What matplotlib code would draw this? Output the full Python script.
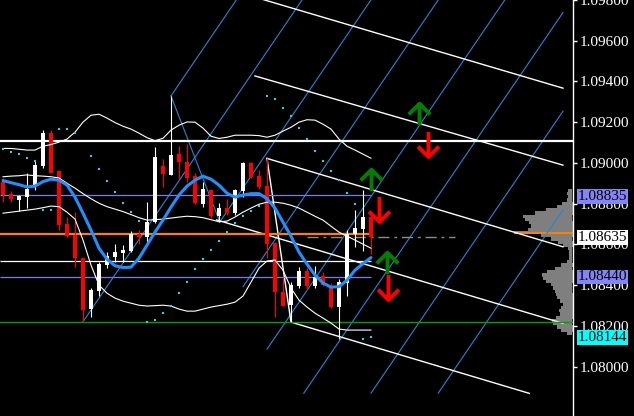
import numpy as np
import matplotlib
matplotlib.use("Agg")
import matplotlib.pyplot as plt
import matplotlib.transforms as mtransforms
from matplotlib.path import Path

# -----------------------------
# 1. Price data (one candle per bar, oldest first)
# -----------------------------
opens = [1.08907, 1.08847, 1.08820, 1.08833, 1.08891, 1.08985, 1.09145, 1.08959, 1.08699, 1.08645,
         1.08534, 1.08282, 1.08372, 1.08498, 1.08539, 1.08558, 1.08568, 1.08650, 1.08637, 1.08708,
         1.08984, 1.08943, 1.09043, 1.09002, 1.08935, 1.08796, 1.08866, 1.08740, 1.08779, 1.08755,
         1.08861, 1.09000, 1.08937, 1.08886, 1.08607, 1.08367, 1.08301, 1.08395, 1.08470, 1.08395,
         1.08444, 1.08395, 1.08290, 1.08408, 1.08650, 1.08673, 1.08735]
highs = [1.08926, 1.08863, 1.08842, 1.08950, 1.09013, 1.09161, 1.09164, 1.08964, 1.08735, 1.08760,
         1.08537, 1.08385, 1.08513, 1.08563, 1.08601, 1.08596, 1.08665, 1.08670, 1.08809, 1.09079,
         1.09018, 1.09329, 1.09082, 1.09091, 1.08948, 1.08907, 1.08874, 1.08801, 1.08822, 1.08874,
         1.09005, 1.09005, 1.08964, 1.09022, 1.08612, 1.08434, 1.08416, 1.08487, 1.08482, 1.08493,
         1.08465, 1.08411, 1.08429, 1.08670, 1.08771, 1.08866, 1.08736]
lows = [1.08807, 1.08809, 1.08764, 1.08778, 1.08866, 1.08976, 1.08950, 1.08670, 1.08635, 1.08490,
        1.08220, 1.08244, 1.08346, 1.08482, 1.08514, 1.08514, 1.08563, 1.08601, 1.08612, 1.08703,
        1.08882, 1.08941, 1.08915, 1.08907, 1.08797, 1.08784, 1.08727, 1.08710, 1.08743, 1.08743,
        1.08833, 1.08926, 1.08874, 1.08531, 1.08244, 1.08297, 1.08218, 1.08385, 1.08375, 1.08385,
        1.08395, 1.08288, 1.08135, 1.08346, 1.08588, 1.08568, 1.08555]
closes = [1.08842, 1.08822, 1.08837, 1.08871, 1.08989, 1.09145, 1.08951, 1.08694, 1.08642, 1.08531,
          1.08277, 1.08375, 1.08503, 1.08542, 1.08563, 1.08572, 1.08650, 1.08634, 1.08710, 1.09030,
          1.08945, 1.09038, 1.09005, 1.08927, 1.08801, 1.08870, 1.08740, 1.08779, 1.08752, 1.08866,
          1.09000, 1.08932, 1.08882, 1.08604, 1.08364, 1.08298, 1.08400, 1.08470, 1.08395, 1.08442,
          1.08402, 1.08290, 1.08414, 1.08653, 1.08681, 1.08735, 1.08637]

# -----------------------------
# 2. Indicators
# -----------------------------
ma_fast = [1.08913, 1.08903, 1.08893, 1.08882, 1.08886, 1.08908, 1.08920, 1.08915, 1.08891, 1.08832,
           1.08753, 1.08670, 1.08581, 1.08527, 1.08495, 1.08486, 1.08488, 1.08532, 1.08596, 1.08660,
           1.08719, 1.08783, 1.08842, 1.08886, 1.08915, 1.08935, 1.08920, 1.08891, 1.08851, 1.08832,
           1.08842, 1.08849, 1.08849, 1.08824, 1.08778, 1.08709, 1.08640, 1.08562, 1.08503, 1.08449,
           1.08410, 1.08390, 1.08392, 1.08424, 1.08473, 1.08505, 1.08535]
bb_mid = [1.08932, 1.08935, 1.08937, 1.08941, 1.08937, 1.08935, 1.08932, 1.08926, 1.08900, 1.08876,
          1.08849, 1.08824, 1.08802, 1.08785, 1.08773, 1.08761, 1.08746, 1.08731, 1.08719, 1.08721,
          1.08724, 1.08729, 1.08734, 1.08738, 1.08736, 1.08731, 1.08721, 1.08711, 1.08714, 1.08734,
          1.08758, 1.08778, 1.08797, 1.08807, 1.08807, 1.08802, 1.08792, 1.08778, 1.08758, 1.08738,
          1.08719, 1.08689, 1.08660, 1.08640, 1.08621, 1.08601, 1.08581]
bb_up = [1.09071, 1.09071, 1.09067, 1.09063, 1.09063, 1.09082, 1.09090, 1.09102, 1.09117, 1.09151,
         1.09200, 1.09234, 1.09239, 1.09220, 1.09198, 1.09180, 1.09166, 1.09146, 1.09124, 1.09109,
         1.09121, 1.09161, 1.09185, 1.09201, 1.09200, 1.09171, 1.09131, 1.09120, 1.09126, 1.09136,
         1.09136, 1.09136, 1.09134, 1.09126, 1.09136, 1.09156, 1.09175, 1.09200, 1.09212, 1.09210,
         1.09190, 1.09166, 1.09117, 1.09082, 1.09063, 1.09043, 1.09023]
bb_low = [1.08753, 1.08758, 1.08763, 1.08768, 1.08773, 1.08780, 1.08788, 1.08785, 1.08758, 1.08724,
          1.08621, 1.08498, 1.08400, 1.08360, 1.08336, 1.08321, 1.08311, 1.08301, 1.08297, 1.08299,
          1.08301, 1.08297, 1.08282, 1.08272, 1.08272, 1.08282, 1.08292, 1.08299, 1.08306, 1.08316,
          1.08346, 1.08414, 1.08483, 1.08518, 1.08523, 1.08473, 1.08385, 1.08326, 1.08292, 1.08262,
          1.08238, 1.08213, 1.08184, 1.08179, 1.08179, 1.08179, 1.08179]
sar = [1.09066, 1.09054, 1.09043, 1.09025, 1.09009, 1.08768, 1.08771, 1.09168, 1.09168, 1.09147,
       np.nan, 1.09035, 1.08969, 1.08910, 1.08858, 1.08804, 1.08760, 1.08715, 1.08220, 1.08228,
       1.08261, 1.08297, 1.08362, 1.08416, 1.08477, 1.08526, 1.08573, 1.08617, 1.08661, 1.08703,
       1.08740, 1.08765, 1.08789, 1.09329, 1.09313, 1.09270, 1.09231, 1.09173, 1.09115, 1.09058,
       1.09009, 1.08961, 1.08915, 1.08854, 1.08797, 1.08135, 1.08146]

# -----------------------------
# 3. Drawn objects
# -----------------------------
# horizontal levels
full_levels = [1.09107, 1.08219]
full_colors = ['white', '#00A000']
full_widths = [1.6, 1.0]
short_levels = [1.08840, 1.08650, 1.08516, 1.08440]
short_colors = ['#7B7BEE', '#FF8000', 'white', '#7B7BEE']
short_widths = [0.9, 1.6, 0.9, 0.9]
bid_price = 1.08637

# sloped channel lines: (start bar, start price, end bar, end price)
channel_lines = [
    (30.9, 1.09821, 70.0, 1.09367),
    (31.5, 1.09427, 70.0, 1.08989),
    (33.0, 1.09022, 70.0, 1.08588),
    (26.7, 1.08720, 70.0, 1.08212),
    (36.0, 1.08218, 65.8, 1.07868),
    (33.0, 1.09022, 36.0, 1.08218),
]

# grid rays: lower start point of each parallel line, rising to the right
grid_bars = [21.0, 10.0, 27.1, 30.0, 33.0, 37.6, 46.0, 54.4]
grid_prices = [1.09329, 1.08220, 1.08710, 1.08392, 1.08085, 1.07869, 1.07869, 1.07869]
grid_slope = 0.000577   # price per bar
grid_cross = (21.0, 1.09329, 27.1, 1.08710)

# signal arrows
arrow_bars = [52.0, 46.0, 48.0, 53.1, 47.0, 48.1]
arrow_prices = [1.09241, 1.08918, 1.08510, 1.09092, 1.08775, 1.08390]
arrow_dirs = ['up', 'up', 'up', 'down', 'down', 'down']

# volume profile at right edge
vp_prices = [1.08866, 1.08850, 1.08834, 1.08818, 1.08802, 1.08786, 1.08770, 1.08754, 1.08738, 1.08722,
             1.08706, 1.08690, 1.08674, 1.08658, 1.08642, 1.08626, 1.08610, 1.08594, 1.08578, 1.08562,
             1.08546, 1.08530, 1.08514, 1.08498, 1.08482, 1.08466, 1.08450, 1.08434, 1.08418, 1.08402,
             1.08386, 1.08370, 1.08354, 1.08338, 1.08322, 1.08306, 1.08290, 1.08274, 1.08258, 1.08242,
             1.08226, 1.08210, 1.08194, 1.08178, 1.08162]
vp_volume = [5, 6, 5, 6, 11, 16, 27, 38, 50, 48, 44, 42, 45, 59, 32, 22, 15, 10, 5, 4,
             4, 4, 6, 12, 18, 26, 31, 30, 27, 22, 20, 18, 17, 16, 13, 10, 12, 14, 13, 17,
             21, 20, 16, 12, 6]

# axis
price_ticks = [1.080, 1.082, 1.084, 1.086, 1.088, 1.090, 1.092, 1.094, 1.096, 1.098]
box_labels = ['1.08835', '1.08635', '1.08440', '1.08144']
box_prices = [1.08835, 1.08635, 1.08440, 1.08144]
box_colors = ['#8484F6', '#FFFFFF', '#8484F6', '#00FFFF']

# -----------------------------
# 4. Figure
# -----------------------------
plt.rcParams['font.family'] = ['Liberation Serif', 'DejaVu Serif']

fig = plt.figure(figsize=(6.34, 4.16), dpi=100, facecolor='black')
ax = fig.add_axes([0, 0, 572.5 / 634, 1])
ax.set_facecolor('black')
x_left, x_right = -0.375, 71.19
ax.set_xlim(x_left, x_right)
ax.set_ylim(1.07757, 1.09800)

# volume profile (bars grow leftwards from the price scale)
w = np.array(vp_volume) / 8.0
ax.barh(vp_prices, w, left=x_right - w, height=0.00016, color='#7F7F7F', linewidth=0, zorder=1)
poc = int(np.argmax(vp_volume))
ax.barh(vp_prices[poc], w[poc], left=x_right - w[poc], height=0.0001, color='#FF8000', linewidth=0, zorder=1.1)

# grid rays
for b, p in zip(grid_bars, grid_prices):
    b_end = min(70.0, b + (1.0990 - p) / grid_slope)
    ax.plot([b, b_end], [p, p + grid_slope * (b_end - b)], color='#1E88D8', lw=0.8, zorder=1.5)
ax.plot(grid_cross[0::2], grid_cross[1::2], color='#1E88D8', lw=0.8, zorder=1.5)

# channel lines
for b0, p0, b1, p1 in channel_lines:
    ax.plot([b0, b1], [p0, p1], color='white', lw=1.0, zorder=2)

# horizontal levels
for lvl, col, lw in zip(full_levels, full_colors, full_widths):
    ax.axhline(lvl, color=col, lw=lw, zorder=2)
n = len(opens)
for lvl, col, lw in zip(short_levels, short_colors, short_widths):
    ax.hlines(lvl, x_left, n - 1, colors=col, lw=lw, zorder=2)
ax.hlines(bid_price, 38, 56.5, colors='#8C8C8C', lw=1.0, linestyles=(0, (8, 3.5, 2, 3.5)), zorder=2)

# candles
xs = np.arange(n)
o = np.array(opens)
c = np.array(closes)
up = c >= o
cols = np.where(up, 'white', '#FF0000')
ax.vlines(xs, lows, highs, colors=cols, lw=0.8, zorder=3)
body_low = np.minimum(o, c)
body_h = np.maximum(np.abs(c - o), 0.00003)
ax.bar(xs, body_h, bottom=body_low, width=0.6, color=cols, linewidth=0, zorder=3.1)

# indicators
for band in (bb_up, bb_mid, bb_low):
    ax.plot(xs, band, color='white', lw=0.8, zorder=4)
ax.plot(xs, ma_fast, color='#1E90FF', lw=2.2, zorder=4.5, solid_capstyle='round')
ax.plot(xs, sar, linestyle='none', marker='s', markersize=2.1, color='#00E5EE',
        markeredgewidth=0, zorder=5)


# arrows
def arrow_path(d, length):
    verts = [(0, -length * d), (0, length * d),
             (-1, (length - 1) * d), (0, length * d), (1, (length - 1) * d)]
    codes = [Path.MOVETO, Path.LINETO, Path.MOVETO, Path.LINETO, Path.LINETO]
    return Path(verts, codes)


up_arrow = arrow_path(1, 1.0)
down_arrow = arrow_path(-1, 1.2)
for b, p, d in zip(arrow_bars, arrow_prices, arrow_dirs):
    if d == 'up':
        ax.plot(b, p, marker=up_arrow, markersize=15.5, markeredgewidth=2.8,
                markeredgecolor='#008000', markerfacecolor='none', linestyle='none', zorder=6)
    else:
        ax.plot(b, p, marker=down_arrow, markersize=18, markeredgewidth=2.8,
                markeredgecolor='#FF0000', markerfacecolor='none', linestyle='none', zorder=6)

# -----------------------------
# 5. Price scale
# -----------------------------
for side in ('left', 'top', 'bottom'):
    ax.spines[side].set_visible(False)
ax.spines['right'].set_color('white')
ax.spines['right'].set_linewidth(1.0)
ax.set_xticks([])
ax.yaxis.tick_right()
ax.set_yticks(price_ticks)
ax.set_yticklabels([f"{t:.5f}" for t in price_ticks])
ax.tick_params(axis='y', colors='white', length=3, width=1, pad=2, labelsize=11)

trans = mtransforms.blended_transform_factory(fig.transFigure, ax.transData)
for lab, p, col in zip(box_labels, box_prices, box_colors):
    ax.text(577.5 / 634, p, lab, transform=trans, ha='left', va='center', fontsize=11,
            color='black', zorder=10, clip_on=False,
            bbox=dict(boxstyle='square,pad=0.06', fc=col, ec='none'))

fig.savefig('out.png', dpi=100, facecolor='black')
